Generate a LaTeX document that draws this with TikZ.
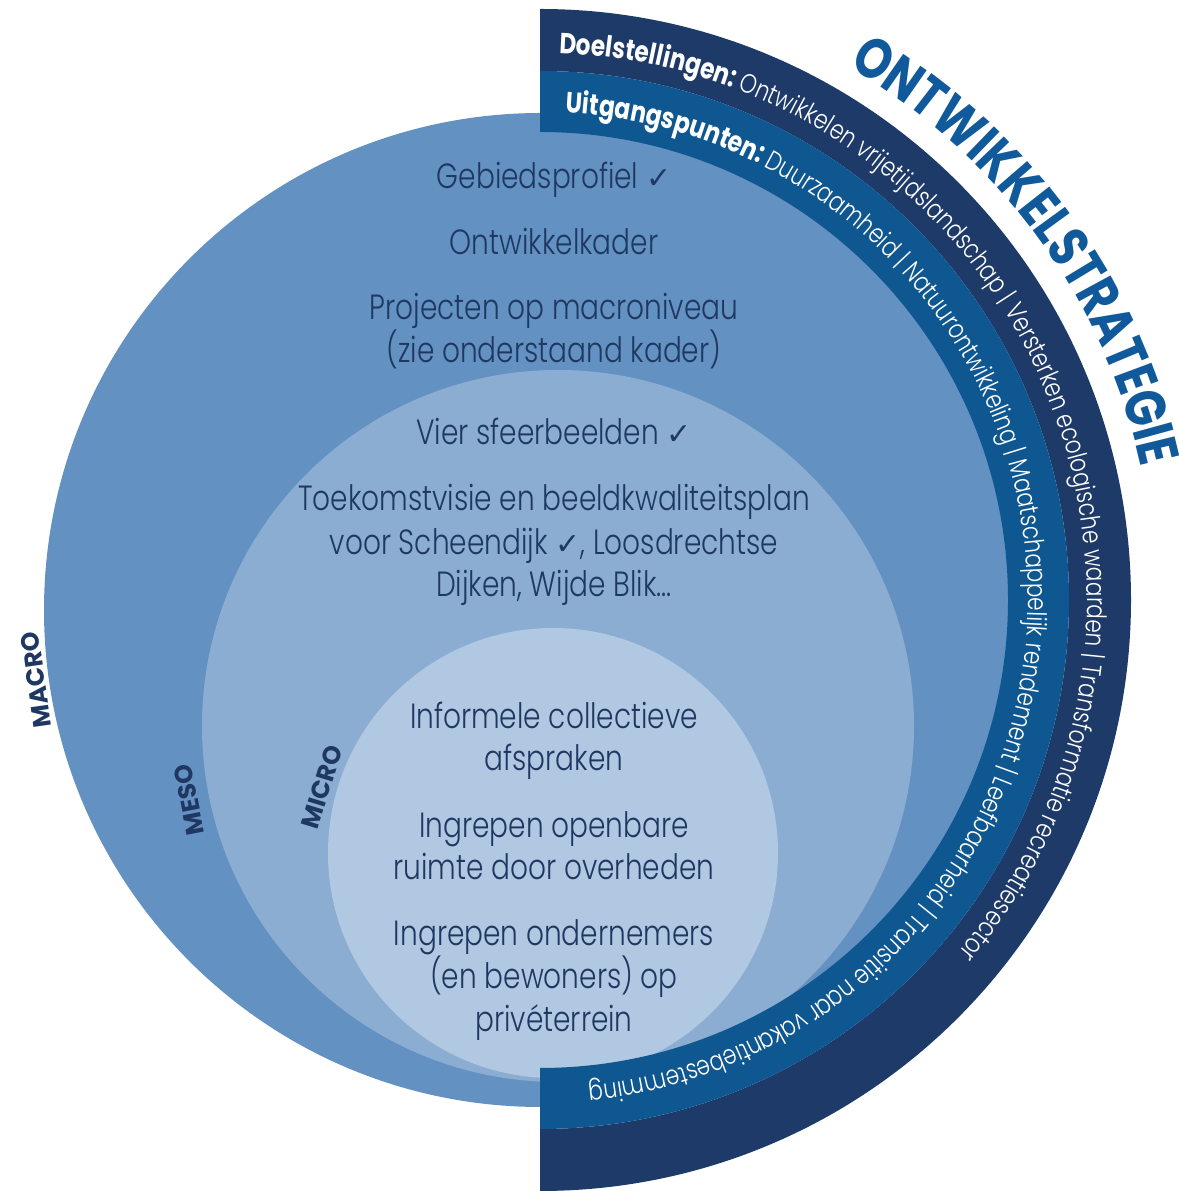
\documentclass[tikz,border=0pt]{standalone}
\usepackage{fontspec}
\setmainfont{Poppins}
\newfontfamily\fut[FakeStretch=0.8]{Poppins Light}
\newfontfamily\futb[FakeStretch=0.8]{Poppins}
\newfontfamily\symf{DejaVu Sans}
\usetikzlibrary{decorations.text}
\definecolor{navyband}{HTML}{1E3A68}
\definecolor{midband}{HTML}{0F5791}
\definecolor{macrofill}{HTML}{6391C1}
\definecolor{mesofill}{HTML}{8BADD1}
\definecolor{microfill}{HTML}{B0C8E2}
\definecolor{txt}{HTML}{1E3862}
\definecolor{titleblue}{HTML}{105A9B}
\newcommand\chk{{\symf\fontsize{30}{34}\selectfont ✓}}
\tikzset{
  body/.style={text=txt, inner sep=0pt, anchor=mid, font=\fut\fontsize{35}{40}\selectfont},
  level/.style={text=txt, inner sep=0pt, font=\bfseries\fontsize{25}{30}\selectfont},
}
\begin{document}
\begin{tikzpicture}[x=1pt,y=1pt]
\useasboundingbox (0,0) rectangle (1178,1191);
% circles
\fill[macrofill] (541,581) circle[radius=497];
\fill[mesofill] (558,465) circle[radius=356];
\fill[microfill] (553,338) circle[radius=225];
% bands
\fill[navyband] (540,1182) arc[start angle=90,end angle=-90,radius=591] -- (540,62) arc[start angle=-90,end angle=90,radius=529] -- cycle;
\fill[midband] (540,1120) arc[start angle=90,end angle=-90,radius=529] -- (540,123) arc[start angle=-90,end angle=90,radius=468] -- cycle;
% band texts
\path[decorate, decoration={text along path, text format delimiters={[}{]}, text color=white, text align=left,
  text={[\futb\bfseries\fontsize{29}{32}\selectfont]Doelstellingen: [\fut\fontsize{27}{30}\selectfont]Ontwikkelen vrijetijdslandschap | Versterken ecologische waarden | Transformatie recreatiesector}}]
  (559.1,1137.7) arc[start angle=88,end angle=-70,radius=547];
\path[decorate, decoration={text along path, text format delimiters={[}{]}, text color=white, text align=left,
  text={[\futb\bfseries\fontsize{29}{32}\selectfont]Uitgangspunten: [\fut\fontsize{27}{30}\selectfont]Duurzaamheid | Natuurontwikkeling | Maatschappelijk rendement | Leefbaarheid | Transitie naar vakantiebestemming}}]
  (565.5,1078.3) arc[start angle=87,end angle=-105,radius=488];
\path[decorate, decoration={text along path, text format delimiters={[}{]}, text color=titleblue, text align=left,
  text={[\futb\bfseries\fontsize{57}{64}\selectfont]ONTWIKKELSTRATEGIE}}]
  (848,1124.5) arc[start angle=60,end angle=-10,radius=616];
% level labels
\node[level, rotate=98] (lmacro) at (36,511) {MACRO};
\node[level, rotate=101] (lmeso) at (189,391) {MESO};
\node[level, rotate=73] (lmicro) at (322,404) {MICRO};
% macro texts
\node[body] (g1) at (554,1005) {Gebiedsprofiel \chk};
\node[body] (g2) at (554,939) {Ontwikkelkader};
\node[body] (g3) at (554,874) {Projecten op macroniveau};
\node[body] (g4) at (554,831) {(zie onderstaand kader)};
% meso texts
\node[body] (m1) at (554,749) {Vier sfeerbeelden \chk};
\node[body] (m2) at (554,683) {Toekomstvisie en beeldkwaliteitsplan};
\node[body] (m3) at (554,639) {voor Scheendijk \chk, Loosdrechtse};
\node[body] (m4) at (554,597) {Dijken, Wijde Blik...};
% micro texts
\node[body] (i1) at (554,465) {Informele collectieve};
\node[body] (i2) at (554,423) {afspraken};
\node[body] (i3) at (554,356) {Ingrepen openbare};
\node[body] (i4) at (554,314) {ruimte door overheden};
\node[body] (i5) at (554,248) {Ingrepen ondernemers};
\node[body] (i6) at (554,205) {(en bewoners) op};
\node[body] (i7) at (554,162) {privéterrein};
\end{tikzpicture}
\end{document}
